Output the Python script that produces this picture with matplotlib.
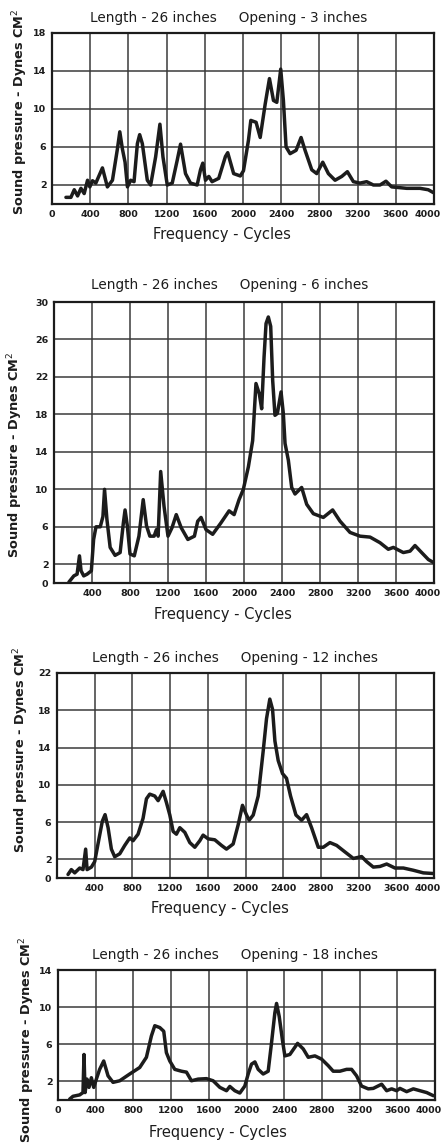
import matplotlib
matplotlib.use("Agg")
import matplotlib.pyplot as plt

# ---------------- data ----------------
freq_ticks = [0, 400, 800, 1200, 1600, 2000, 2400, 2800, 3200, 3600, 4000]
titles = ["Length - 26 inches     Opening - 3 inches",
          "Length - 26 inches     Opening - 6 inches",
          "Length - 26 inches     Opening - 12 inches",
          "Length - 26 inches     Opening - 18 inches"]
ylims = [18, 30, 22, 14]
yticks1 = [2, 6, 10, 14, 18]
yticks2 = [2, 6, 10, 14, 18, 22, 26, 30]
yticks3 = [2, 6, 10, 14, 18, 22]
yticks4 = [2, 6, 10, 14]

f1 = [146, 198, 233, 268, 303, 337, 372, 396, 424, 459, 528, 580, 633, 685, 710, 737, 765,
      790, 824, 859, 894, 918, 946, 998, 1033, 1085, 1130, 1162, 1207, 1259, 1311, 1346,
      1398, 1450, 1520, 1555, 1579, 1607, 1642, 1676, 1746, 1816, 1840, 1902, 1972, 2005,
      2057, 2082, 2137, 2180, 2232, 2277, 2319, 2354, 2395, 2423, 2451, 2493, 2556, 2608,
      2650, 2720, 2772, 2835, 2894, 2964, 3034, 3093, 3156, 3225, 3295, 3365, 3435, 3497,
      3557, 3714, 3853, 3940, 3993]
p1 = [0.7, 0.7, 1.5, 0.85, 1.65, 1.1, 2.5, 1.8, 2.45, 2.2, 3.8, 1.8, 2.5, 5.8, 7.6, 5.8, 4.4,
      1.8, 2.5, 2.35, 6.35, 7.3, 6.35, 2.5, 2.0, 4.95, 8.4, 4.95, 2.0, 2.2, 4.6, 6.3,
      3.2, 2.2, 2.0, 3.6, 4.3, 2.5, 2.9, 2.35, 2.7, 5.0, 5.4, 3.2, 2.95, 3.5,
      6.7, 8.8, 8.6, 7.0, 10.5, 13.2, 10.9, 10.7, 14.2, 10.9, 6.0, 5.3, 5.65, 7.0,
      5.65, 3.6, 3.2, 4.4, 3.2, 2.5, 2.9, 3.4, 2.35, 2.2, 2.35, 2.0, 2.0, 2.4,
      1.8, 1.65, 1.65, 1.5, 1.2]

f2 = [157, 209, 243, 268, 285, 313, 348, 393, 417, 442, 487, 515, 532, 557, 591, 643, 696,
      730, 748, 772, 800, 845, 894, 939, 974, 1009, 1054, 1078, 1096, 1123, 1158, 1200,
      1242, 1287, 1339, 1409, 1478, 1513, 1548, 1600, 1670, 1756, 1843, 1896, 1948, 1993,
      2046, 2091, 2126, 2161, 2186, 2211, 2232, 2256, 2281, 2302, 2326, 2351, 2390, 2414,
      2432, 2467, 2502, 2537, 2607, 2660, 2730, 2835, 2933, 3011, 3116, 3221, 3327, 3432,
      3519, 3572, 3677, 3748, 3800, 3870, 3941, 3993]
p2 = [0.1, 0.76, 0.94, 2.9, 1.3, 0.76, 0.94, 1.3, 4.65, 6.0, 6.0, 7.1, 10.0, 6.8, 3.8, 2.95, 3.25,
      6.4, 7.8, 6.1, 3.1, 2.9, 5.0, 8.9, 6.1, 5.0, 5.0, 5.7, 5.0, 11.9, 8.2, 5.0,
      5.9, 7.3, 5.9, 4.65, 5.0, 6.6, 7.0, 5.7, 5.2, 6.4, 7.7, 7.3, 8.9, 10.0,
      12.4, 15.2, 21.3, 20.2, 18.6, 24.1, 27.7, 28.4, 27.4, 21.6, 17.9, 18.1, 20.4, 18.1,
      14.9, 13.1, 10.2, 9.5, 10.2, 8.4, 7.4, 7.0, 7.8, 6.6, 5.4, 5.0, 4.9, 4.3,
      3.6, 3.8, 3.25, 3.4, 4.0, 3.25, 2.5, 2.2]

f3 = [117, 152, 188, 241, 276, 304, 319, 365, 400, 435, 481, 510, 542, 577, 612, 666, 719,
      772, 807, 860, 913, 949, 984, 1037, 1073, 1126, 1161, 1197, 1232, 1267, 1303, 1356,
      1409, 1462, 1515, 1550, 1604, 1674, 1745, 1798, 1869, 1922, 1968, 2011, 2039, 2082,
      2135, 2188, 2223, 2258, 2287, 2312, 2347, 2393, 2435, 2478, 2535, 2595, 2648, 2701,
      2772, 2825, 2896, 2967, 3055, 3144, 3232, 3285, 3356, 3427, 3498, 3586, 3675, 3781,
      3887, 3993]
p3 = [0.38, 0.9, 0.55, 1.07, 0.9, 3.1, 0.9, 1.17, 1.76, 3.65, 6.1, 6.8, 5.4, 3.1, 2.28, 2.6, 3.5,
      4.3, 4.0, 4.7, 6.4, 8.5, 9.0, 8.8, 8.3, 9.3, 8.1, 6.76, 5.0, 4.7, 5.4, 4.9,
      3.8, 3.3, 4.0, 4.6, 4.2, 4.1, 3.5, 3.1, 3.65, 5.7, 7.8, 6.76, 6.2, 6.76,
      8.8, 13.65, 17.1, 19.2, 18.1, 14.7, 12.6, 11.2, 10.7, 8.8, 6.76, 6.2, 6.8, 5.4,
      3.3, 3.3, 3.8, 3.5, 2.8, 2.1, 2.3, 1.76, 1.17, 1.24, 1.5, 1.07, 1.07, 0.83,
      0.55, 0.48]

f4 = [124, 159, 230, 265, 276, 287, 308, 329, 354, 379, 407, 442, 485, 531, 584, 655, 761,
      867, 938, 991, 1027, 1080, 1122, 1150, 1186, 1239, 1310, 1363, 1416, 1487, 1575,
      1646, 1717, 1788, 1823, 1876, 1929, 1982, 2018, 2053, 2089, 2124, 2177, 2230, 2266,
      2301, 2319, 2347, 2382, 2407, 2460, 2542, 2602, 2655, 2726, 2797, 2867, 2920, 2991,
      3062, 3115, 3168, 3221, 3292, 3345, 3434, 3487, 3540, 3593, 3628, 3699, 3770, 3841,
      3912, 3983]
p4 = [0.1, 0.4, 0.55, 0.8, 4.9, 0.8, 2.25, 1.36, 2.4, 1.36, 2.25, 3.3, 4.2, 2.6, 1.9, 2.07, 2.8,
      3.5, 4.6, 6.9, 8.0, 7.8, 7.4, 5.1, 4.2, 3.3, 3.1, 3.0, 2.07, 2.25, 2.3,
      2.07, 1.36, 1.0, 1.46, 1.0, 0.75, 1.5, 2.8, 3.86, 4.1, 3.3, 2.8, 3.1, 6.2,
      9.4, 10.4, 9.0, 6.4, 4.75, 4.9, 6.1, 5.5, 4.6, 4.75, 4.4, 3.7, 3.1, 3.1,
      3.3, 3.3, 2.6, 1.5, 1.2, 1.25, 1.7, 1.0, 1.2, 1.0, 1.25, 0.9, 1.2, 1.0,
      0.8, 0.46]

ylabel = "Sound pressure - Dynes CM$^2$"
xlabel = "Frequency - Cycles"

# ---------------- style ----------------
plt.rcParams["font.family"] = ["DejaVu Sans"]
plt.rcParams["mathtext.fontset"] = "dejavusans"

W, H = 442, 1145
fig = plt.figure(figsize=(W / 100, H / 100), dpi=100)
fig.patch.set_facecolor("white")

# pixel boxes: left, right, top, bottom
boxes = [(52, 434, 33, 204), (54, 434, 302, 583), (57, 434, 673, 878), (58, 435, 970, 1100)]
series = [(f1, p1, yticks1), (f2, p2, yticks2), (f3, p3, yticks3), (f4, p4, yticks4)]
title_pos = [(229, 18), (230, 285), (235, 658), (235, 955)]
xlabel_pos = [(222, 235), (223, 615), (220, 908), (218, 1132)]
ylabel_pos = [(20, 112), (15, 455), (21, 750), (27, 1040)]
zero_on_x = [True, False, False, True]

INK = "#1c1c1c"
TSIZE = 6.8
for i, ((l, r, t, b), (fx, py, yt)) in enumerate(zip(boxes, series)):
    ax = fig.add_axes([l / W, 1 - b / H, (r - l) / W, (b - t) / H])
    ax.set_facecolor("white")
    ax.plot(fx, py, color=INK, lw=2.5, solid_joinstyle="round", solid_capstyle="round", zorder=3)
    ax.set_xlim(0, 4000)
    ax.set_ylim(0, ylims[i])
    ax.set_xticks(freq_ticks)
    labs = [str(v) for v in freq_ticks]
    if not zero_on_x[i]:
        labs[0] = ""
    last_lab = labs[-1]
    labs[-1] = ""
    ax.set_xticklabels(labs)
    # last label drawn right-aligned a little past the axes edge so it clears "3600"
    ax.annotate(last_lab, xy=(1, 0), xycoords="axes fraction", xytext=(4.5, -4),
                textcoords="offset points", ha="right", va="top", fontsize=TSIZE,
                fontweight="bold", color=INK)
    if zero_on_x[i]:
        ax.set_yticks(yt)
        ax.set_yticklabels([str(v) for v in yt])
    else:
        ax.set_yticks([0] + yt)
        ax.set_yticklabels(["0"] + [str(v) for v in yt])
    ax.grid(True, color="#3a3a3a", lw=1.1)
    ax.set_axisbelow(True)
    for s in ax.spines.values():
        s.set_color(INK)
        s.set_linewidth(1.6)
    ax.tick_params(length=0, labelsize=TSIZE, pad=4, colors=INK)
    for lab in ax.get_xticklabels() + ax.get_yticklabels():
        lab.set_fontweight("bold")
    tx, ty = title_pos[i]
    fig.text(tx / W, 1 - ty / H, titles[i], ha="center", va="center", fontsize=9.8, color=INK)
    xx, xy = xlabel_pos[i]
    fig.text(xx / W, 1 - xy / H, xlabel, ha="center", va="center", fontsize=10.5, color=INK)
    yx, yy = ylabel_pos[i]
    fig.text(yx / W, 1 - yy / H, ylabel, ha="center", va="center", rotation=90, fontsize=9.3,
             color=INK, fontweight="bold")

fig.savefig("out.png", dpi=100, facecolor="white")
